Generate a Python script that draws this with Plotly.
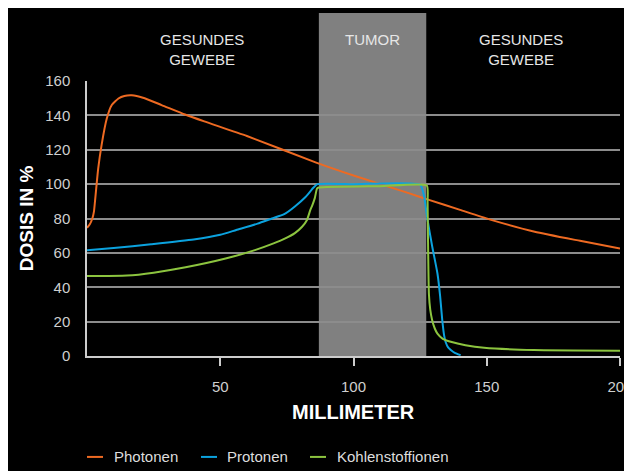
import plotly.graph_objects as go

# ---- data ----
photon_x = [0, 1, 2, 2.6, 3, 4.2, 5.5, 7.4, 9.3, 11.8, 14, 16.8, 21, 28, 36.8, 44, 60, 86, 100, 121, 128, 140, 151, 168, 185, 200]
photon_y = [74.6, 76.5, 80, 84, 90, 109, 123, 138, 146, 149.8, 151.3, 151.7, 150.3, 146, 140.5, 136.5, 128, 112.5, 105, 94.6, 91, 85, 79.5, 72.3, 67, 62.5]

proton_x = [0, 10, 24, 40, 50, 56, 64, 69.4, 74, 78, 82, 85, 86.5, 100, 125, 126.5, 127.7, 129.5, 131.5, 132.5, 133.3, 134, 134.6, 135.5, 136.5, 138, 140.2]
proton_y = [61.5, 62.8, 65, 67.8, 70.5, 73.3, 77, 80, 82.5, 87, 92.5, 98, 100, 100, 99.7, 93, 80, 64, 48, 35, 21, 12, 8, 5, 3.5, 1.8, 0.5]

carbon_x = [0, 15, 25, 37, 52, 63, 70, 74.4, 78, 80.7, 82.5, 83.8, 84.5, 85.5, 86.3, 87, 110, 127.5, 127.8, 127.9, 128.3, 128.8, 129.5, 130.5, 131.5, 133.5, 136.5, 142, 149, 167.7, 200]
carbon_y = [46.5, 46.8, 48.5, 51.6, 56.7, 61.6, 65.5, 68.4, 71.5, 75.2, 79, 85, 87.5, 92, 97.4, 98, 98.8, 99.2, 90, 75, 36, 27, 21, 16, 13, 10, 8.3, 6.3, 4.8, 3.5, 3.1]

series_names = ["Photonen", "Protonen", "Kohlenstoffionen"]
series_colors = ["#EE6A22", "#0BA2DE", "#8CC43F"]

tumor_range = [87, 127.3]
x_ticks = [50, 100, 150, 200]
y_ticks = [0, 20, 40, 60, 80, 100, 120, 140, 160]

FONT = "Liberation Sans, Arial, sans-serif"
TICK_COLOR = "#cfcfcf"

fig = go.Figure()
for xs, ys, name, col in zip([photon_x, proton_x, carbon_x], [photon_y, proton_y, carbon_y],
                             series_names, series_colors):
    fig.add_trace(go.Scatter(x=xs, y=ys, mode="lines", name=name,
                             line=dict(color=col, width=2, shape="spline", smoothing=0.5),
                             showlegend=False))

# tumor band
fig.add_shape(type="rect", xref="x", yref="paper", x0=tumor_range[0], x1=tumor_range[1],
              y0=0, y1=1.247, fillcolor="#808080", line_width=0, layer="below")

# region labels
for txt, xc in [("GESUNDES<br>GEWEBE", 43), ("TUMOR", 107), ("GESUNDES<br>GEWEBE", 163)]:
    fig.add_annotation(x=xc, y=1.19, xref="x", yref="paper", text=txt, showarrow=False,
                       yanchor="top", font=dict(family=FONT, size=15, color="#e6e6e6"))

# axis titles
fig.add_annotation(x=0.5, y=-0.204, xref="paper", yref="paper", text="<b>MILLIMETER</b>",
                   showarrow=False, xanchor="center", yanchor="middle",
                   font=dict(family=FONT, size=20, color="white"))
fig.add_annotation(x=-0.113, y=0.5, xref="paper", yref="paper", text="<b>DOSIS IN %</b>",
                   textangle=-90, showarrow=False, xanchor="center", yanchor="middle",
                   font=dict(family=FONT, size=19, color="white"))

# manual legend
leg_px = [(87, 103, 112), (201, 217, 225), (310, 326, 335)]
W = 533.0
for (l0, l1, tx), name, col in zip(leg_px, series_names, series_colors):
    fig.add_shape(type="line", xref="paper", yref="paper",
                  x0=(l0 - 87) / W, x1=(l1 - 87) / W, y0=-0.367, y1=-0.367,
                  line=dict(color=col, width=2))
    fig.add_annotation(x=(tx - 87) / W, y=-0.367, xref="paper", yref="paper", text=name,
                       xanchor="left", yanchor="middle", showarrow=False,
                       font=dict(family=FONT, size=15, color="#dddddd"))

fig.update_layout(
    width=624, height=463,
    paper_bgcolor="black", plot_bgcolor="black",
    margin=dict(l=79, r=12, t=73, b=115),
    font=dict(family=FONT, color=TICK_COLOR),
    xaxis=dict(range=[0, 200], tickvals=x_ticks, ticks="outside", ticklen=8, tickcolor="#cccccc",
               tickwidth=1.5, showgrid=False, zeroline=False, showline=True, linecolor="#cccccc",
               linewidth=1.5, tickfont=dict(family=FONT, size=15, color=TICK_COLOR),
               ticklabelstandoff=8, ticklabeloverflow="allow", automargin=False),
    yaxis=dict(range=[0, 160], tickvals=y_ticks, showgrid=True, gridcolor="#8c8c8c", gridwidth=1.6,
               zeroline=False, showline=True, linecolor="#cccccc", linewidth=1.5,
               tickfont=dict(family=FONT, size=15, color=TICK_COLOR), ticklabelstandoff=12,
               automargin=False),
)

fig.write_html("out.html")
